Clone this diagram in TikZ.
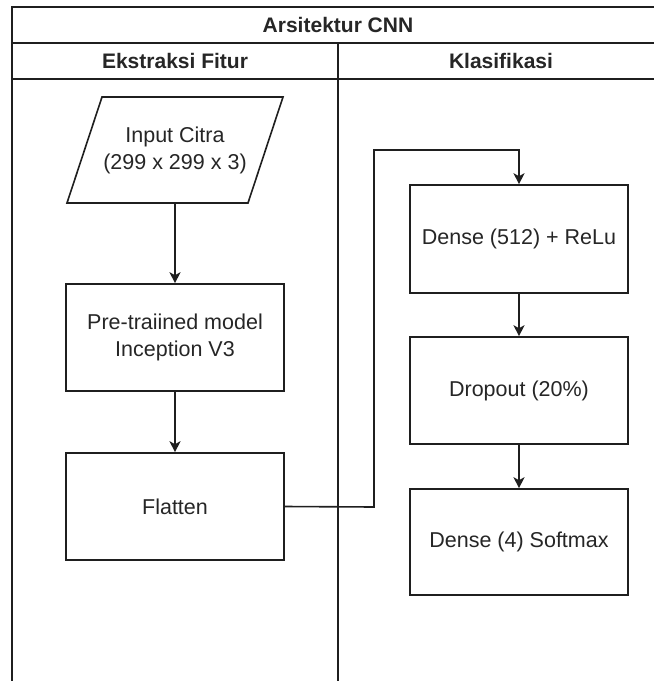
\documentclass[tikz,border=0pt]{standalone}
\usepackage{fontspec}
\setmainfont{Liberation Sans}
\usetikzlibrary{arrows.meta}
\begin{document}
\begin{tikzpicture}[x=1pt,y=-1pt,
  line/.style={draw=black!88,line width=1.6pt},
  stepbox/.style={line,rectangle,minimum width=218pt,minimum height=107pt,inner sep=0pt,
    align=center,font=\fontsize{21.5}{27}\selectfont,text=black!85},
  head/.style={font=\fontsize{21}{25}\selectfont\bfseries,text=black!85,inner sep=0pt},
  flow/.style={line,-{Stealth[length=11pt,width=11pt,inset=3pt]}}]
  \useasboundingbox (0,0) rectangle (654,681);
  \fill[white] (0,0) rectangle (654,681);
  \begin{scope}
    \clip (0,0) rectangle (654,681);
    % swimlane frame
    \draw[line] (12,720) -- (12,7) -- (664,7) -- (664,720);
    \draw[line] (12,43) -- (664,43);
    \draw[line] (12,79) -- (664,79);
    \draw[line] (338,43) -- (338,720);
  \end{scope}
  \node[head] (title) at (338,25) {Arsitektur CNN};
  \node[head] (laneA) at (175,61) {Ekstraksi Fitur};
  \node[head] (laneB) at (501,61) {Klasifikasi};

  % input parallelogram
  \draw[line] (102,97) -- (283,97) -- (248,203) -- (67,203) -- cycle;
  \node[stepbox,draw=none,minimum width=216pt,minimum height=106pt] (input) at (175,150)
    {Input Citra\\(299 x 299 x 3)};

  \node[stepbox] (pre) at (175,337.5) {Pre-traiined model\\Inception V3};
  \node[stepbox] (flat) at (175,506.5) {Flatten};

  \node[stepbox,minimum height=108pt] (dense1) at (519,239) {Dense (512) + ReLu};
  \node[stepbox] (drop) at (519,390.5) {Dropout (20\%)};
  \node[stepbox,minimum height=106pt] (dense2) at (519,542) {Dense (4) Softmax};

  \coordinate (bendA) at (374,507);
  \coordinate (bendB) at (374,150);

  \draw[flow] (input.south) -- (pre.north);
  \draw[flow] (pre.south) -- (flat.north);
  \draw[flow] (flat.east) -- (bendA) -- (bendB) -| (dense1.north);
  \draw[flow] (dense1.south) -- (drop.north);
  \draw[flow] (drop.south) -- (dense2.north);
\end{tikzpicture}
\end{document}
